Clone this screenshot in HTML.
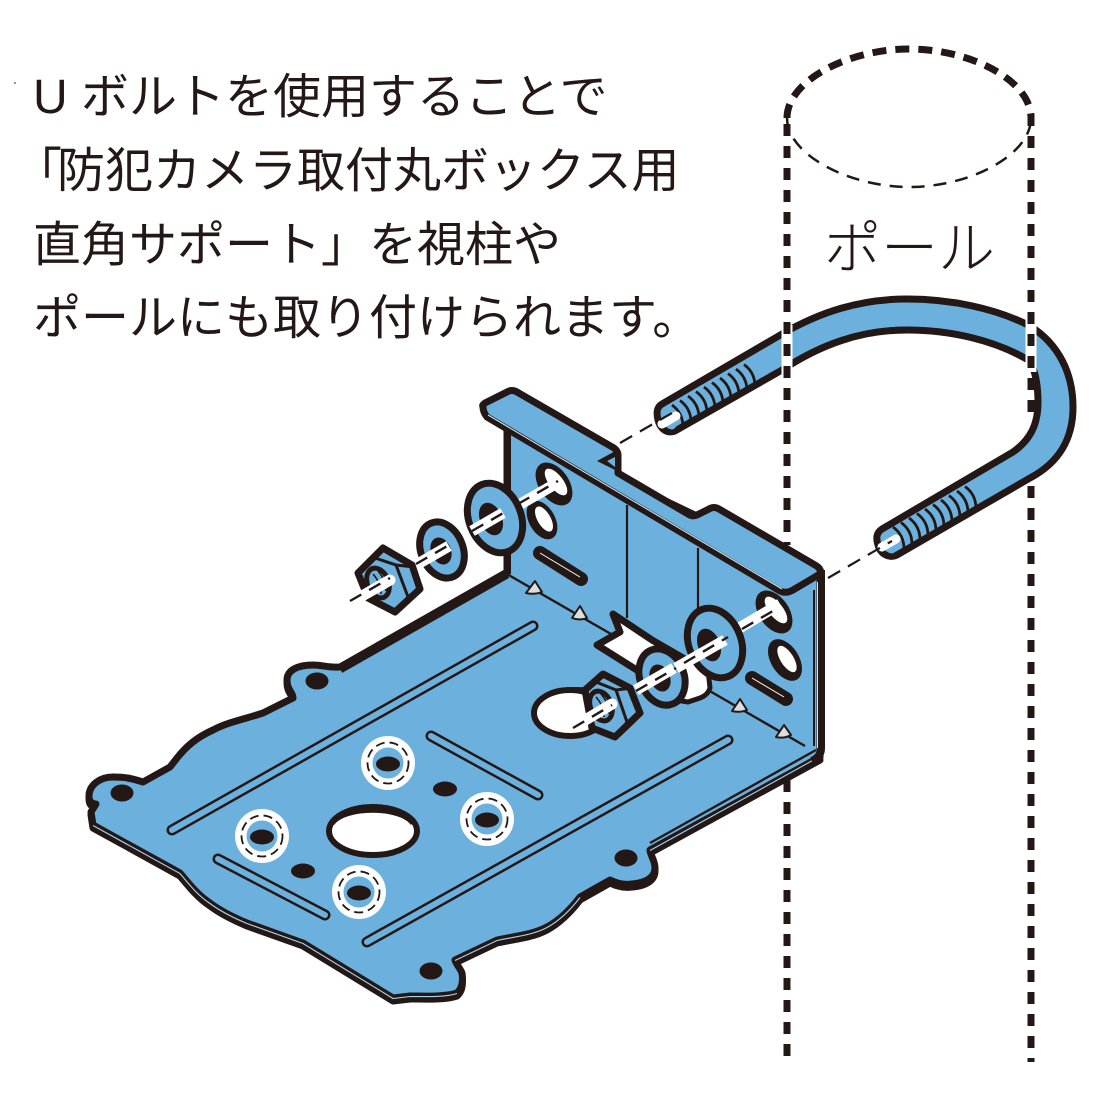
<!DOCTYPE html>
<html><head><meta charset="utf-8">
<style>html,body{margin:0;padding:0;background:#fff}svg{display:block}
text{font-family:"Liberation Sans","Noto Sans CJK JP",sans-serif;fill:#231815}</style></head>
<body>
<svg width="1100" height="1100" viewBox="0 0 1100 1100" xmlns="http://www.w3.org/2000/svg">
<rect width="1100" height="1100" fill="#fff"/>
<circle cx="15" cy="83" r="0.8" fill="#231815"/>
<g font-size="48">
<text x="33" y="113">U ボルトを使用することで</text>
<text y="187"><tspan x="14">「</tspan><tspan x="57">防犯カメラ取付丸ボックス用</tspan></text>
<text x="33" y="261">直角サポート」を視柱や</text>
<text x="33" y="334">ポールにも取り付けられます。</text>
</g>
<text x="824" y="268" font-size="57" font-weight="300">ポール</text>

<!-- pole -->
<path d="M787,118 C787,80 850,49 909,49 C970,49 1031,80 1031,118" fill="none" stroke="#231815" stroke-width="7" stroke-dasharray="14,9"/>
<path d="M787,118 C787,155 850,187 909,187 C970,187 1031,155 1031,118" fill="none" stroke="#231815" stroke-width="2.5" stroke-dasharray="13,9"/>

<!-- U bolt -->
<path d="M662,404 L782,334 C820,312 860,299 907,299 C950,299 995,308 1030,326 C1060,345 1073,375 1073,407 C1073,438 1060,462 1030,478 L897,555 C888,559 880,553 878,545 C876,538 876,533 882,529 L1013,452 C1030,440 1038,425 1038,402 C1038,385 1035,370 1030,361 C995,340 950,330 907,330 C860,330 820,345 782,370 L675,431 C666,434 660,428 658,420 C656,412 657,407 662,404 Z" fill="#6cb1de" stroke="#231815" stroke-width="7" stroke-linejoin="round"/>
<g fill="none" stroke="#231815" stroke-width="2.8">
<path d="M672,405q11,8 11,22M680,400.5q11,8 11,22M688,396q11,8 11,22M696,391.500q11,8 11,22M704,387q11,8 11,22M712,382.500q11,8 11,22M720,378q11,8 11,22M728,373.500q11,8 11,22M736,369q11,8 11,22M744,364.500q11,8 11,22"/>
<path d="M893,527q11,8 11,22M901,522.500q11,8 11,22M909,518q11,8 11,22M917,513.500q11,8 11,22M925,509q11,8 11,22M933,504.500q11,8 11,22M941,500q11,8 11,22M949,495.500q11,8 11,22M957,491q11,8 11,22M965,486.500q11,8 11,22"/>
</g>
<ellipse cx="669" cy="419" rx="7" ry="11" transform="rotate(-25 669 419)" fill="#6cb1de"/>
<ellipse cx="889" cy="543" rx="7" ry="11" transform="rotate(-25 889 543)" fill="#6cb1de"/>
<path d="M662,424L676,416M882,547L896,539" stroke="#fff" stroke-width="9" stroke-linecap="round"/>
<path d="M620,443L672,413M828,578L892,541" stroke="#231815" stroke-width="2.2" stroke-dasharray="14,9" fill="none"/>

<!-- white gaps over bolt and pole lines -->
<path d="M787,325V380" stroke="#fff" stroke-width="11"/>
<path d="M1031,316V372" stroke="#fff" stroke-width="11"/>
<path d="M787,124V545" stroke="#231815" stroke-width="7" stroke-dasharray="12,10" fill="none"/>
<path d="M787,780V1062" stroke="#231815" stroke-width="7" stroke-dasharray="12,10" fill="none"/>
<path d="M1031,114V418" stroke="#231815" stroke-width="7" stroke-dasharray="12,10" fill="none"/>
<path d="M1031,486V1062" stroke="#231815" stroke-width="7" stroke-dasharray="12,10" fill="none"/>

<!-- base plate shadow -->
<path d="M507,572 L340,667 C330,668 322,665 313,665 C298,665 287,670 287,680 C287,690 293,692 293,698 L263,713 C245,719 228,722 213,730 C195,738 185,748 177,758 L170,767 L143,782 C130,778 125,777 113,777 C100,777 89,785 89,796 C89,802 92,804 96,804 L91,812 L93,825 L180,873 C190,885 198,895 210,903 C222,912 235,918 247,923 L303,943 L393,998 L410,996 C425,996 445,997 457,993 C463,988 463,980 462,973 C460,968 456,964 455,960 L497,940 C515,936 532,935 547,927 C560,920 570,910 580,897 L610,880 C618,884 625,885 632,884 C645,883 655,878 655,868 C655,860 650,855 650,850 L820,757 Z" fill="#231815" stroke="#231815" stroke-width="7" stroke-linejoin="round" transform="translate(0,3)"/>
<path d="M507,572 L340,667 C330,668 322,665 313,665 C298,665 287,670 287,680 C287,690 293,692 293,698 L263,713 C245,719 228,722 213,730 C195,738 185,748 177,758 L170,767 L143,782 C130,778 125,777 113,777 C100,777 89,785 89,796 C89,802 92,804 96,804 L91,812 L93,825 L180,873 C190,885 198,895 210,903 C222,912 235,918 247,923 L303,943 L393,998 L410,996 C425,996 445,997 457,993 C463,988 463,980 462,973 C460,968 456,964 455,960 L497,940 C515,936 532,935 547,927 C560,920 570,910 580,897 L610,880 C618,884 625,885 632,884 C645,883 655,878 655,868 C655,860 650,855 650,850 L820,757 L820,575 L507,425 Z" fill="#6cb1de" stroke="#231815" stroke-width="7" stroke-linejoin="round"/>
<!-- lower edge highlight -->
<path d="M93,825 L180,873 C190,885 198,895 210,903 C222,912 235,918 247,923 L303,943 L393,998 L410,996 C425,996 445,997 457,993 M455,960 L497,940 C515,936 532,935 547,927 C560,920 570,910 580,897 M650,850 L818,757" fill="none" stroke="#a9d3ef" stroke-width="1.1" transform="translate(0,0.5)"/>
<!-- crease -->
<path d="M507,574L805,746" stroke="#231815" stroke-width="2.4"/>
<path d="M650,843L816,750" stroke="#231815" stroke-width="2.4" fill="none"/>
<!-- back left edge -->
<path d="M507.500,430V574" fill="none" stroke="#231815" stroke-width="7"/>
<path d="M507,574L340,669" fill="none" stroke="#231815" stroke-width="9"/>
<!-- vertical fold lines -->
<path d="M627,505V618M698,548V612" stroke="#231815" stroke-width="2.2"/>
<!-- right edge -->
<path d="M821,570V748Q821,757 812,761" fill="none" stroke="#231815" stroke-width="8"/>
<path d="M817.500,582V748" stroke="#cfe6f5" stroke-width="1"/>
<path d="M814,590V746" stroke="#231815" stroke-width="2"/>

<!-- flange -->
<path d="M483,407 Q482,405 485,403 L507,392 Q512,389 517,392 L614,448 Q618,451 618,455 L618,473 L688,514 Q692,517 697,515 L709,509 Q714,506 719,509 L815,565 Q822,569 820,574 L793,590 Q786,594 780,591 L487,417 Q483,412 483,407 Z" fill="#6cb1de" stroke="#231815" stroke-width="7" stroke-linejoin="round"/>
<path d="M488,415L782,589" stroke="#cfe6f5" stroke-width="1.1"/>
<path d="M597,461L619,449V472Z" fill="#231815"/>
<path d="M607,461L615,457V467Z" fill="#6cb1de"/>

<!-- triangles -->
<g fill="#dcdddd" stroke="#231815" stroke-width="2" stroke-linejoin="round">
<path d="M526,593 L535,581 L542,592 Q534,595 526,593 Z"/><path d="M572,618 L580,606 L587,618 Q580,621 572,618 Z"/>
<path d="M732,711 L740,699 L747,710 Q740,713 732,711 Z"/><path d="M776,737 L784,725 L791,735 Q784,739 776,737 Z"/>
</g>

<!-- slots in back plate -->
<g fill="#231815">
<ellipse cx="554" cy="484" rx="15" ry="24" transform="rotate(-35 554 484)"/>
<ellipse cx="542" cy="520" rx="13" ry="21" transform="rotate(-30 542 520)"/>
<ellipse cx="774" cy="612" rx="15" ry="24" transform="rotate(-35 774 612)"/>
<ellipse cx="785" cy="660" rx="14" ry="23" transform="rotate(-32 785 660)"/>
</g>
<g fill="#fff">
<ellipse cx="556" cy="482" rx="7" ry="16" transform="rotate(-38 556 482)"/>
<ellipse cx="544" cy="519" rx="6.500" ry="14" transform="rotate(-30 544 519)"/>
<ellipse cx="776" cy="610" rx="7" ry="16" transform="rotate(-38 776 610)"/>
<ellipse cx="787" cy="659" rx="6.500" ry="15" transform="rotate(-32 787 659)"/>
</g>
<path d="M540,553L581,579M752,678L786,699" stroke="#231815" stroke-width="14" stroke-linecap="round"/>
<path d="M540,553L580,577M752,678L784,697" stroke="#fff" stroke-width="1"/>

<!-- slots in base -->
<g fill="none" stroke-linecap="round">
<g stroke="#231815" stroke-width="11">
<path d="M172,830L533,626M367,942L728,740M431,736L538,795M218,859L325,915"/>
</g>
<g stroke="#6cb1de" stroke-width="6">
<path d="M172,830L533,626M367,942L728,740M431,736L538,795M218,859L325,915"/>
</g>
</g>

<!-- mounting holes -->
<g fill="#231815">
<ellipse cx="317" cy="681" rx="11.500" ry="8.500"/><ellipse cx="122" cy="793" rx="11.500" ry="8.500"/>
<ellipse cx="431" cy="971" rx="11.500" ry="8.500"/><ellipse cx="626" cy="858" rx="11.500" ry="8.500"/>
<ellipse cx="445" cy="789" rx="12" ry="7.500"/><ellipse cx="303" cy="871" rx="12" ry="7.500"/>
</g>
<!-- center hole -->
<ellipse cx="373" cy="831" rx="44" ry="24" fill="#fff" stroke="#231815" stroke-width="6"/>
<path d="M333,824C345,807 400,807 412,824" fill="none" stroke="#231815" stroke-width="3"/>

<!-- screw rings -->
<g>
<g><circle cx="388" cy="763" r="27" fill="#fff"/><circle cx="388" cy="763" r="15.500" fill="#6cb1de"/><circle cx="388" cy="763" r="20.500" fill="none" stroke="#231815" stroke-width="1.8" stroke-dasharray="9,5"/><ellipse cx="388" cy="764" rx="12" ry="7.500" fill="#231815"/></g>
<g><circle cx="487" cy="819" r="27" fill="#fff"/><circle cx="487" cy="819" r="15.500" fill="#6cb1de"/><circle cx="487" cy="819" r="20.500" fill="none" stroke="#231815" stroke-width="1.8" stroke-dasharray="9,5"/><ellipse cx="487" cy="820" rx="12" ry="7.500" fill="#231815"/></g>
<g><circle cx="262" cy="836" r="27" fill="#fff"/><circle cx="262" cy="836" r="15.500" fill="#6cb1de"/><circle cx="262" cy="836" r="20.500" fill="none" stroke="#231815" stroke-width="1.8" stroke-dasharray="9,5"/><ellipse cx="262" cy="837" rx="12" ry="7.500" fill="#231815"/></g>
<g><circle cx="359" cy="892" r="27" fill="#fff"/><circle cx="359" cy="892" r="15.500" fill="#6cb1de"/><circle cx="359" cy="892" r="20.500" fill="none" stroke="#231815" stroke-width="1.8" stroke-dasharray="9,5"/><ellipse cx="359" cy="893" rx="12" ry="7.500" fill="#231815"/></g>
</g>

<!-- large front hole -->
<ellipse cx="570" cy="713" rx="36" ry="23" fill="#fff" stroke="#231815" stroke-width="6"/>
<path d="M537,706C548,686 590,684 604,696" fill="none" stroke="#231815" stroke-width="3"/>

<!-- notch cut -->
<path d="M597,645 L620,632 L613,614 L652,640 L690,662 L690,700 L670,692 L640,672 Z" fill="#fff" stroke="#231815" stroke-width="7" stroke-linejoin="round"/>

<!-- right-hand hardware -->
<path d="M517,506L557,483" stroke="#fff" stroke-width="11"/>
<path d="M736,630L780,604" stroke="#fff" stroke-width="11"/>
<path d="M674,664 L706,652 L710,688 Q708,695 700,698 L688,702 L676,700 Z" fill="#fff" stroke="#231815" stroke-width="5" stroke-linejoin="round"/>
<ellipse cx="715" cy="643" rx="26" ry="36" transform="rotate(-22 715 643)" fill="#6cb1de" stroke="#231815" stroke-width="7"/>
<ellipse cx="709" cy="645" rx="11" ry="17" transform="rotate(-22 709 645)" fill="#231815"/>
<ellipse cx="662" cy="677" rx="22" ry="29" transform="rotate(-22 662 677)" fill="#6cb1de" stroke="#231815" stroke-width="7"/>
<ellipse cx="660" cy="678" rx="10" ry="14" transform="rotate(-22 660 678)" fill="#231815"/>
<path d="M636,690L674,668" stroke="#fff" stroke-width="11"/>
<path d="M676,668L725,640" stroke="#fff" stroke-width="11"/>
<path d="M585,690 L603,674 L630,688 L640,713 L615,737 L592,728 Z" fill="#6cb1de" stroke="#231815" stroke-width="7" stroke-linejoin="round"/>
<path d="M596,682L616,690L627,722L615,737M616,690L632,688M627,722L640,713" fill="none" stroke="#231815" stroke-width="3"/>
<ellipse cx="601" cy="706" rx="13" ry="18" transform="rotate(-22 601 706)" fill="#231815"/>
<ellipse cx="601" cy="706" rx="8" ry="13" transform="rotate(-22 601 706)" fill="#6cb1de"/>
<path d="M601,706m-5,-9q8,9 8,20M601,706m0,-12q8,9 8,20" fill="none" stroke="#231815" stroke-width="1.6"/>
<path d="M582,722L612,704" stroke="#fff" stroke-width="11" stroke-linecap="round"/>
<path d="M573,728L612,705M636,691L676,668M684,663L728,637M742,629L778,608" stroke="#231815" stroke-width="2.400" stroke-dasharray="13,9" fill="none"/>

<!-- left-hand hardware -->
<ellipse cx="495" cy="518" rx="26" ry="36" transform="rotate(-22 495 518)" fill="#6cb1de" stroke="#231815" stroke-width="7"/>
<ellipse cx="491" cy="519" rx="11" ry="17" transform="rotate(-22 491 519)" fill="#231815"/>
<path d="M472,531L503,513" stroke="#fff" stroke-width="11"/>
<ellipse cx="442" cy="550" rx="21" ry="29" transform="rotate(-22 442 550)" fill="#6cb1de" stroke="#231815" stroke-width="7"/>
<ellipse cx="441" cy="551" rx="10" ry="14" transform="rotate(-22 441 551)" fill="#231815"/>
<path d="M416,565L449,546" stroke="#fff" stroke-width="11"/>
<path d="M358,573 L383,548 L412,565 L420,589 L395,612 L368,598 Z" fill="#6cb1de" stroke="#231815" stroke-width="7" stroke-linejoin="round"/>
<path d="M375,558L396,565L408,597L395,612M396,565L414,567M408,597L420,589" fill="none" stroke="#231815" stroke-width="3"/>
<ellipse cx="378" cy="583" rx="13" ry="18" transform="rotate(-22 378 583)" fill="#231815"/>
<ellipse cx="378" cy="583" rx="8" ry="13" transform="rotate(-22 378 583)" fill="#6cb1de"/>
<path d="M378,583m-5,-9q8,9 8,20M378,583m0,-12q8,9 8,20" fill="none" stroke="#231815" stroke-width="1.6"/>
<path d="M362,596L390,580" stroke="#fff" stroke-width="11" stroke-linecap="round"/>
<path d="M350,601L390,578M416,564L449,545M472,531L505,512M518,504L558,481" stroke="#231815" stroke-width="2.400" stroke-dasharray="13,9" fill="none"/>
</svg>
</body></html>
